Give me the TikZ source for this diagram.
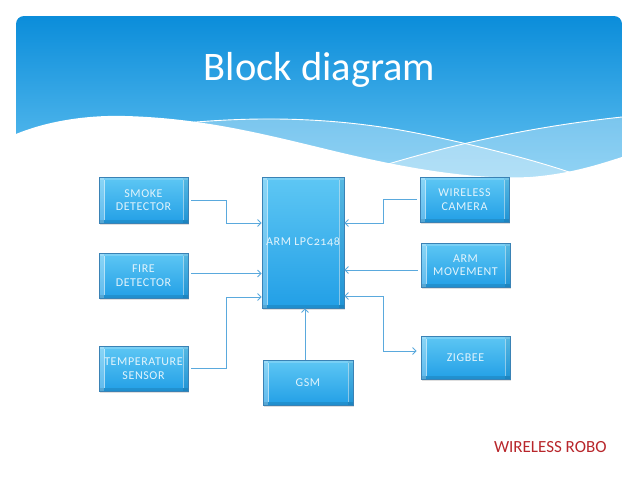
\documentclass[tikz,border=0pt]{standalone}
\usepackage{fontspec}
\setmainfont{Carlito}
\newfontfamily\boxfont[Numbers=OldStyle,LetterSpace=5]{Carlito}
\usetikzlibrary{arrows.meta,shadows}
\definecolor{bannertop}{HTML}{0B8DDA}
\definecolor{bannerbot}{HTML}{66C3F1}
\definecolor{boxtop}{HTML}{5EC7F4}
\definecolor{boxbot}{HTML}{229FE6}
\definecolor{boxedge}{HTML}{3A82B5}
\definecolor{boxtext}{HTML}{E2F4FC}
\definecolor{conncol}{HTML}{5AA9DD}
\definecolor{robored}{HTML}{B8262B}
\tikzset{
  blockbox/.style={rectangle, top color=boxtop, bottom color=boxbot, draw=boxedge, line width=0.6pt,
    text=boxtext, align=center, inner sep=1pt, font=\boxfont\fontsize{12}{13.5}\selectfont,
    drop shadow={opacity=0.25, shadow xshift=1.2pt, shadow yshift=-1.5pt},
    path picture={
      \fill[white,opacity=0.28] (path picture bounding box.north west) rectangle ([xshift=5pt]path picture bounding box.south west);
      \fill[black,opacity=0.07] (path picture bounding box.north east) rectangle ([xshift=-5pt]path picture bounding box.south east);
      \fill[white,opacity=0.18] (path picture bounding box.north west) rectangle ([yshift=-3pt]path picture bounding box.north east);
      \fill[black,opacity=0.10] (path picture bounding box.south west) rectangle ([yshift=3pt]path picture bounding box.south east);
      \draw[white,opacity=0.6,line width=0.9pt] ([xshift=5pt,yshift=-3pt]path picture bounding box.north west) -- ([xshift=5pt,yshift=3pt]path picture bounding box.south west);
      \draw[white,opacity=0.45,line width=0.8pt] ([xshift=-5pt,yshift=-3pt]path picture bounding box.north east) -- ([xshift=-5pt,yshift=3pt]path picture bounding box.south east);
    }},
  conn/.style={draw=conncol, line width=0.9pt, -{Straight Barb[length=3.5pt,width=7pt]}},
  connboth/.style={draw=conncol, line width=0.9pt, {Straight Barb[length=3.5pt,width=7pt]}-{Straight Barb[length=3.5pt,width=7pt]}},
  thinwhite/.style={draw=white, line width=0.9pt}
}
\begin{document}
\begin{tikzpicture}[x=1pt,y=-1pt]
\useasboundingbox (0,0) rectangle (638,479);
\fill[white] (0,0) rectangle (638,479);
% banner
\begin{scope}
  \clip[rounded corners=8pt] (16,16) rectangle (622,210);
  \shade[top color=bannertop, bottom color=bannerbot] (16,16) rectangle (622,185);
  % light band below line A
  \fill[white,opacity=0.30] (185,123) .. controls (260,116) and (330,118) .. (400,130)
      .. controls (440,137) and (520,155) .. (575,174) -- (622,200) -- (185,200) -- cycle;
  % light band below line B
  \fill[white,opacity=0.30] (375,168) .. controls (440,148) and (520,128) .. (622,117) -- (622,200) -- (375,200) -- cycle;
  \draw[thinwhite] (185,123) .. controls (260,116) and (330,118) .. (400,130)
      .. controls (440,137) and (520,155) .. (575,174);
  \draw[thinwhite] (375,168) .. controls (440,148) and (520,128) .. (622,117);
  % white wave
  \fill[white] (16,134) .. controls (50,120) and (90,115) .. (125,116)
      .. controls (200,118) and (260,133) .. (330,150)
      .. controls (400,167) and (470,180) .. (530,177)
      .. controls (570,174) and (600,164) .. (622,157) -- (622,215) -- (16,215) -- cycle;
\end{scope}
\node[anchor=base, text=white, font=\fontsize{40.5}{44}\selectfont] (title) at (319.5,80) {Block diagram};
% blocks
\node[blockbox, minimum width=89pt, minimum height=46pt] (smoke) at (143.5,200) {SMOKE\\DETECTOR};
\node[blockbox, minimum width=89pt, minimum height=45pt] (fire) at (143.5,275.5) {FIRE\\DETECTOR};
\node[blockbox, minimum width=89pt, minimum height=45pt] (temp) at (143.5,368.5) {TEMPERATURE\\SENSOR};
\node[blockbox, minimum width=82pt, minimum height=131pt] (arm) at (303,242.5) {ARM LPC2148};
\node[blockbox, minimum width=90pt, minimum height=45pt] (gsm) at (308,382.5) {GSM};
\node[blockbox, minimum width=89pt, minimum height=45pt] (camera) at (464.5,199.5) {WIRELESS\\CAMERA};
\node[blockbox, minimum width=89pt, minimum height=44pt] (move) at (465.5,265) {ARM\\MOVEMENT};
\node[blockbox, minimum width=89pt, minimum height=43pt] (zigbee) at (465.5,357.5) {ZIGBEE};
% connectors
\draw[conn] ([xshift=3pt]smoke.east) -- (226,200) -- (226,223) -- (arm.west |- 0,223);
\draw[conn] ([xshift=3pt]fire.east |- 0,273.5) -- (arm.west |- 0,273.5);
\draw[conn] ([xshift=3pt]temp.east) -- (226,368.5) -- (226,297) -- (arm.west |- 0,297);
\draw[conn] (gsm.north -| 305,0) -- (arm.south -| 305,0);
\draw[conn] ([xshift=-3pt]camera.west) -- (383,199.5) -- (383,223) -- (arm.east |- 0,223);
\draw[conn] ([xshift=-3pt]move.west |- 0,270) -- (arm.east |- 0,270);
\draw[connboth] (arm.east |- 0,296) -- (383,296) -- (383,351) -- ([xshift=-4pt]zigbee.west |- 0,351);
\node[anchor=base west, text=robored, font=\fontsize{17}{19}\selectfont] (robo) at (490.5,452.5) {WIRELESS ROBO};
\end{tikzpicture}
\end{document}
